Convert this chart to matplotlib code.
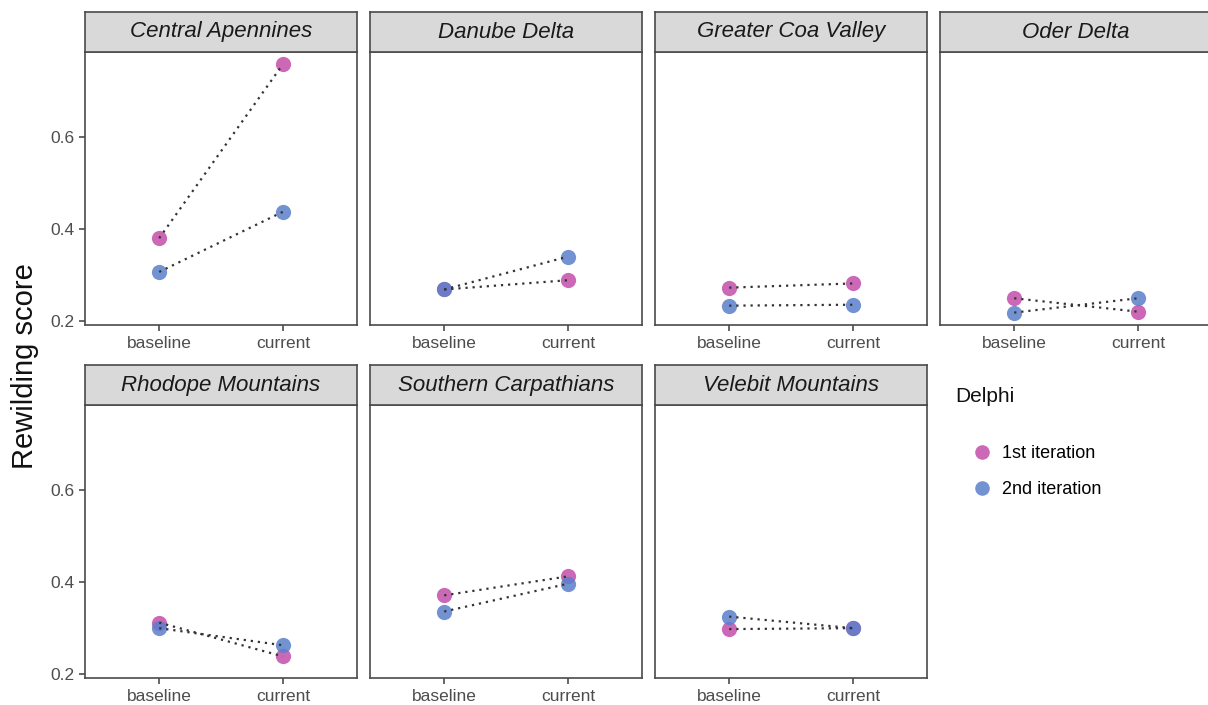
import numpy as np
import matplotlib
matplotlib.use("Agg")
import matplotlib.pyplot as plt
from matplotlib.lines import Line2D

plt.rcParams['font.family'] = ['Liberation Sans', 'DejaVu Sans']

# data
sites = ["Central Apennines", "Danube Delta", "Greater Coa Valley", "Oder Delta",
         "Rhodope Mountains", "Southern Carpathians", "Velebit Mountains"]
periods = ["baseline", "current"]
iter1_baseline = [0.380, 0.269, 0.273, 0.250, 0.312, 0.371, 0.298]
iter1_current = [0.756, 0.289, 0.282, 0.221, 0.239, 0.412, 0.300]
iter2_baseline = [0.307, 0.269, 0.234, 0.219, 0.300, 0.336, 0.325]
iter2_current = [0.437, 0.340, 0.236, 0.250, 0.263, 0.396, 0.300]
iterations = ["1st iteration", "2nd iteration"]
colors = ["#C44FAA", "#5B7FCB"]

W, H = 1208, 705
fig = plt.figure(figsize=(W / 100, H / 100), dpi=100)

# shared y range with ggplot-like 5% expansion
allv = np.array(iter1_baseline + iter1_current + iter2_baseline + iter2_current)
span = allv.max() - allv.min()
ylim = (allv.min() - 0.05 * span, allv.max() + 0.05 * span)

border = "#4a4a4a"
lefts = [85, 370, 655, 940]
pw = 272
rows = [(52, 325), (405, 678)]  # (top, bottom) of panel area in px
strip_h = 40

for i, site in enumerate(sites):
    r, c = divmod(i, 4)
    top, bot = rows[r]
    l = lefts[c]
    ax = fig.add_axes([l / W, 1 - bot / H, pw / W, (bot - top) / H])
    sx = fig.add_axes([l / W, 1 - top / H, pw / W, strip_h / H])

    x = [1, 2]
    vals = [[iter1_baseline[i], iter1_current[i]], [iter2_baseline[i], iter2_current[i]]]
    for k in range(2):
        ax.scatter(x, vals[k], s=120, color=colors[k], alpha=0.85, linewidths=0, zorder=2)
    for k in range(2):
        ax.plot(x, vals[k], ls=(0, (1, 2.2)), color="#333333", lw=1.6, zorder=3)

    ax.set_xlim(0.4, 2.6)
    ax.set_ylim(*ylim)
    ax.set_xticks(x)
    ax.set_xticklabels(periods)
    ax.set_yticks([0.2, 0.4, 0.6])
    if c == 0:
        ax.set_yticklabels(["0.2", "0.4", "0.6"])
    else:
        ax.tick_params(axis="y", left=False, labelleft=False)
    ax.tick_params(colors="#4d4d4d", labelsize=12.5, length=4, width=1.2, direction="out",
                   labelcolor="#4d4d4d")
    ax.tick_params(axis="x", pad=4)
    for s in ax.spines.values():
        s.set_color(border)
        s.set_linewidth(1.2)

    sx.set_facecolor("#d9d9d9")
    sx.set_xticks([])
    sx.set_yticks([])
    for s in sx.spines.values():
        s.set_color(border)
        s.set_linewidth(1.2)
    sx.text(0.5, 0.5, site, ha="center", va="center", style="italic",
            fontsize=16, color="#1a1a1a", transform=sx.transAxes)

fig.text(25 / W, 1 - 366 / H, "Rewilding score", rotation=90, ha="center", va="center",
         fontsize=21, color="#111111")

# legend
fig.text(955 / W, 1 - 397 / H, "Delphi", ha="left", va="center", fontsize=15,
         color="#111111")
handles = [Line2D([], [], ls="none", marker="o", ms=10.5, color=colors[k], alpha=0.85,
                  markeredgewidth=0) for k in range(2)]
fig.legend(handles, iterations, loc="upper left",
           bbox_to_anchor=(959 / W, 1 - 440 / H), frameon=False, fontsize=13,
           labelspacing=1.05, handletextpad=0.1, borderaxespad=0, borderpad=0.3)

plt.savefig("out.png", dpi=100)
